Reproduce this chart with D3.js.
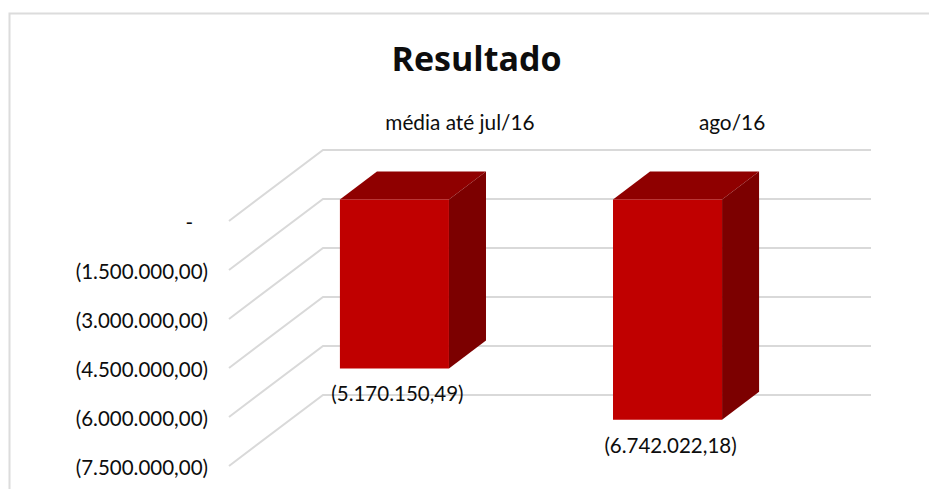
<!DOCTYPE html>
<html>
<head>
<meta charset="utf-8">
<script src="https://d3js.org/d3.v7.min.js"></script>
<style>
    html, body { margin: 0; padding: 0; background: #fff; overflow: hidden; }
    text { font-family: Lato, sans-serif; fill: #0d0d0d; }
</style>
</head>
<body>
<div id="chart"></div>
<script>
const categories = ['média até jul/16', 'ago/16'];
const values = [-5170150.49, -6742022.18];
const valueLabels = ['(5.170.150,49)', '(6.742.022,18)'];
const tickValues = [0, -1500000, -3000000, -4500000, -6000000, -7500000];
const tickLabels = ['-', '(1.500.000,00)', '(3.000.000,00)', '(4.500.000,00)', '(6.000.000,00)', '(7.500.000,00)'];

const width = 929, height = 489;

const svg = d3.select('#chart').append('svg')
    .attr('width', width)
    .attr('height', height)
    .style('display', 'block');

// Frame, the picture is cropped so only top and left show
svg.append('path')
    .attr('d', d3.line()([[9.5, height], [9.5, 13.5], [width, 13.5]]))
    .attr('fill', 'none')
    .attr('stroke', '#dcdcdc')
    .attr('stroke-width', 2);

// Scales on the front plane of the 3D box (depth 0)
const x = d3.scaleBand().domain(categories).range([229.5, 775.5]).paddingInner(0.6007).paddingOuter(0.3);
const y = d3.scaleLinear().domain([0, -7500000]).range([221, 466]);
// Depth 0 = front of floor, 1 = back wall
const depthX = d3.scaleLinear().domain([0, 1]).range([0, 94]);
const depthY = d3.scaleLinear().domain([0, 1]).range([0, -71]);

const barFront = 0.303, barBack = 0.697;

const pt = (px, v, z) => [px + depthX(z), y(v) + depthY(z)];
const poly = d3.line();

// Gridlines: side wall then back wall
const wallLeft = 229, wallRight = 777;
svg.append('g').selectAll('path').data(tickValues).join('path')
    .attr('d', d => poly([pt(wallLeft, d, 0), pt(wallLeft, d, 1), pt(wallRight, d, 1)]))
    .attr('fill', 'none')
    .attr('stroke', '#d9d9d9')
    .attr('stroke-width', 2);

// Bars
const bars = svg.append('g').selectAll('g')
    .data(categories.map((c, i) => ({ c, v: values[i], label: valueLabels[i] })))
    .join('g');

// top
bars.append('path')
    .attr('fill', '#8f0000')
    .attr('d', d => {
        const x0 = x(d.c), x1 = x0 + x.bandwidth();
        return poly([pt(x0, 0, barFront), pt(x0, 0, barBack), pt(x1, 0, barBack), pt(x1, 0, barFront)]) + 'Z';
    });
// side
bars.append('path')
    .attr('fill', '#7c0000')
    .attr('d', d => {
        const x1 = x(d.c) + x.bandwidth();
        return poly([pt(x1, 0, barFront), pt(x1, 0, barBack), pt(x1, d.v, barBack), pt(x1, d.v, barFront)]) + 'Z';
    });
// front
bars.append('path')
    .attr('fill', '#c00000')
    .attr('d', d => {
        const x0 = x(d.c), x1 = x0 + x.bandwidth();
        return poly([pt(x0, 0, barFront), pt(x1, 0, barFront), pt(x1, d.v, barFront), pt(x0, d.v, barFront)]) + 'Z';
    });

// Value labels
bars.append('text')
    .attr('x', d => pt(x(d.c) + x.bandwidth() / 2, d.v, barFront)[0] + 3)
    .attr('y', d => pt(0, d.v, barFront)[1] + 33)
    .attr('text-anchor', 'middle')
    .style('font-size', '20.5px')
    .text(d => d.label);

// Axis labels, the zero dash sits further left
svg.append('g').selectAll('text').data(tickValues).join('text')
    .attr('x', d => d === 0 ? 193 : 208)
    .attr('y', d => y(d) + 8.5)
    .attr('text-anchor', 'end')
    .style('font-size', '20.5px')
    .text((d, i) => tickLabels[i]);

// Category labels on top
svg.append('g').selectAll('text').data(categories).join('text')
    .attr('x', (d, i) => x(d) + x.bandwidth() / 2 + 94 - i)
    .attr('y', 130)
    .attr('text-anchor', 'middle')
    .style('font-size', '20.8px')
    .text(d => d);

svg.append('text')
    .attr('x', 476.5)
    .attr('y', 71)
    .attr('text-anchor', 'middle')
    .style('font-family', '"Open Sans", sans-serif')
    .style('font-size', '34px')
    .style('font-weight', 700)
    .text('Resultado');
</script>
</body>
</html>
